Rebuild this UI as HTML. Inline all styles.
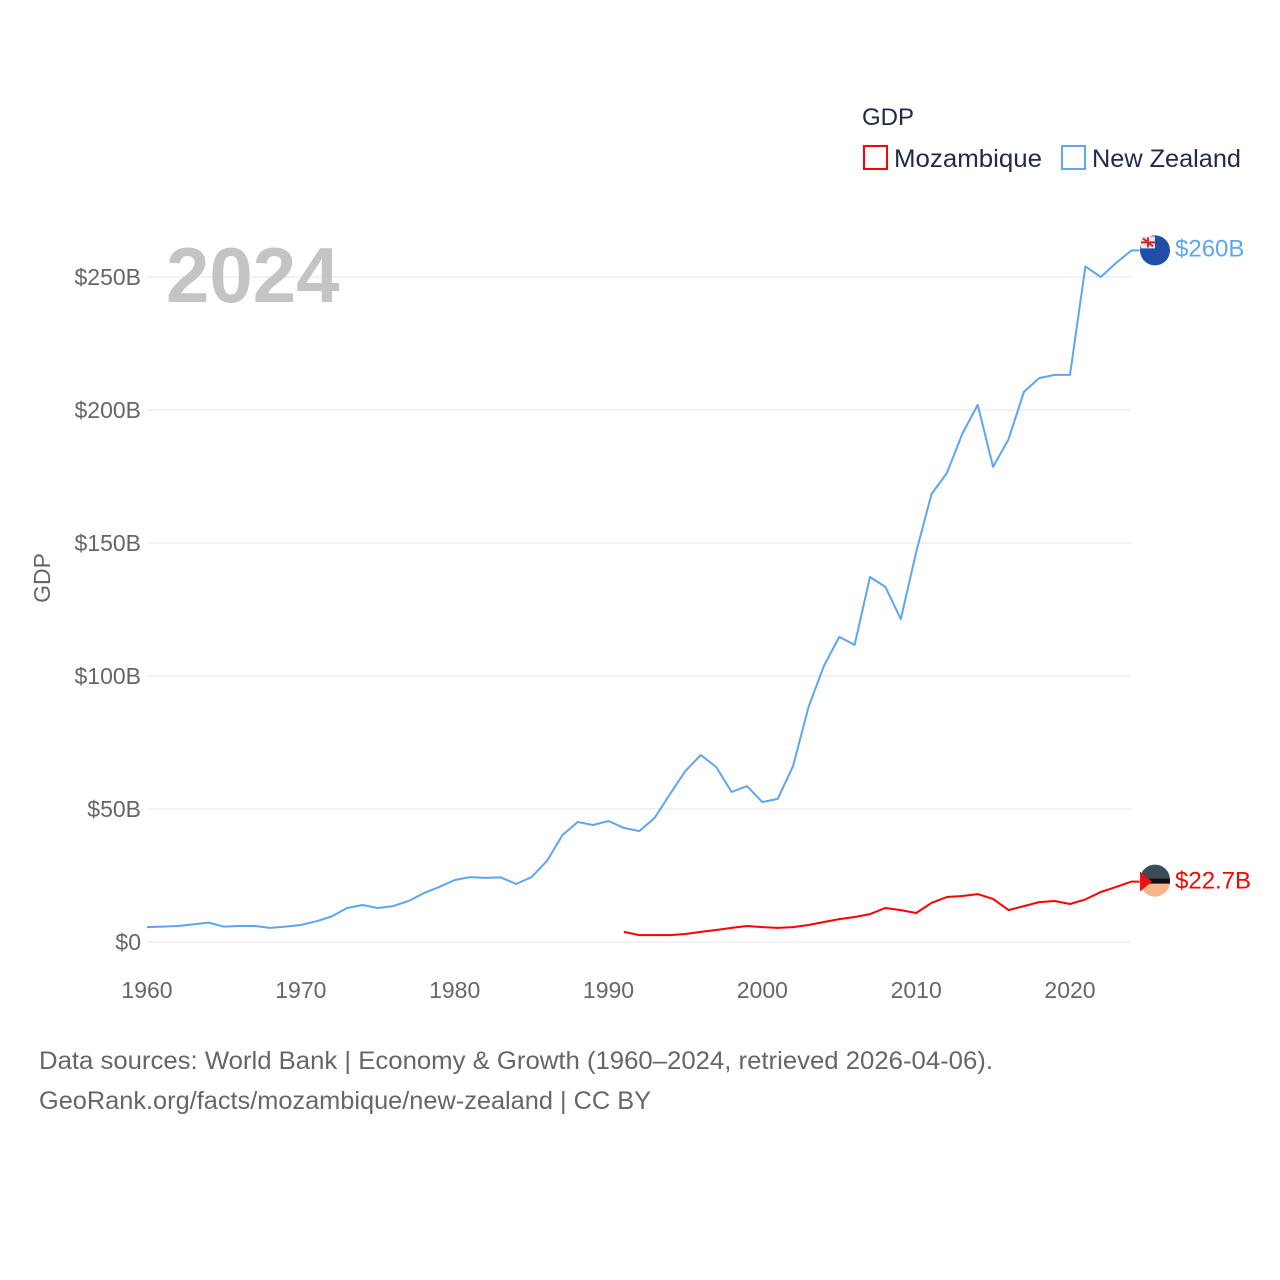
<!DOCTYPE html>
<html><head><meta charset="utf-8">
<style>
html,body{margin:0;padding:0;background:#fff;width:1280px;height:1280px;overflow:hidden;font-family:"Liberation Sans",sans-serif;}
</style></head>
<body>
<svg id="chart" width="1280" height="1280" viewBox="0 0 1280 1280" xmlns="http://www.w3.org/2000/svg" font-family="Liberation Sans, sans-serif">
  <text x="862" y="125" font-size="24" fill="#222b45">GDP</text>
  <g>
    <rect x="864" y="146" width="23" height="23" fill="none" stroke="#ff0000" stroke-width="2"/>
    <text x="894" y="167" font-size="25" fill="#222b45" textLength="148" lengthAdjust="spacingAndGlyphs">Mozambique</text>
  </g>
  <g>
    <rect x="1062" y="146" width="23" height="23" fill="none" stroke="#5ea6ee" stroke-width="2"/>
    <text x="1092" y="167" font-size="25" fill="#222b45" textLength="149" lengthAdjust="spacingAndGlyphs">New Zealand</text>
  </g>
  <g id="grid"></g>
  <g id="yticks"></g>
  <g id="xticks"></g>
  <text x="166" y="302" font-size="78" font-weight="bold" fill="#c4c4c4">2024</text>
  <text transform="translate(50,578) rotate(-90)" text-anchor="middle" font-size="23" fill="#666">GDP</text>
  <g id="series"></g>
  <text x="39" y="1069" font-size="25" fill="#666" textLength="954" lengthAdjust="spacingAndGlyphs">Data sources: World Bank | Economy &amp; Growth (1960–2024, retrieved 2026-04-06).</text>
  <text x="39" y="1109" font-size="25" fill="#666" textLength="612" lengthAdjust="spacingAndGlyphs">GeoRank.org/facts/mozambique/new-zealand | CC BY</text>
</svg>
<script>
const years = Array.from({length:65},(_,i)=>1960+i);
const nzValues = [5.6,5.8,6.0,6.6,7.3,5.8,6.0,6.0,5.3,5.8,6.4,7.8,9.6,12.8,13.9,12.8,13.5,15.4,18.4,20.7,23.3,24.4,24.1,24.3,21.8,24.4,30.5,40.2,45.1,44.0,45.5,42.9,41.7,46.6,55.6,64.3,70.3,65.8,56.4,58.6,52.6,53.8,66.2,88.3,103.8,114.7,111.7,137.2,133.5,121.4,146.6,168.4,176.3,191.0,201.9,178.6,189.0,206.8,212.0,213.2,213.2,254.0,250.0,255.3,260.0];
const mzYears = Array.from({length:34},(_,i)=>1991+i);
const mzValues = [3.8,2.6,2.6,2.6,3.0,3.8,4.5,5.3,6.0,5.6,5.3,5.6,6.4,7.5,8.6,9.4,10.5,12.8,12.0,10.9,14.7,16.9,17.3,18.0,16.2,12.0,13.5,15.0,15.4,14.3,16.0,18.8,20.7,22.7];
const yTicks = [0,50,100,150,200,250];
const yTickLabels = ["$0","$50B","$100B","$150B","$200B","$250B"];
const xTicks = [1960,1970,1980,1990,2000,2010,2020];
const endLabels = ["$260B","$22.7B"];

const NS="http://www.w3.org/2000/svg";
const x = yr => 147 + (yr-1960)*(1070-147)/60;
const y = v => 942 - v*(942-277)/250;
function mk(tag, attrs, parent){const e=document.createElementNS(NS,tag);for(const k in attrs)e.setAttribute(k,attrs[k]);parent.appendChild(e);return e;}
const grid=document.getElementById('grid'), yt=document.getElementById('yticks'), xt=document.getElementById('xticks'), ser=document.getElementById('series');
yTicks.forEach((t,i)=>{
  const l=mk('line',{x1:147,x2:1131,y1:y(t),y2:y(t),stroke:'#e6e6e6','stroke-width':1},grid);
  
  
  const tx=mk('text',{x:141,y:y(t)+8,'text-anchor':'end','font-size':23,fill:'#666'},yt);
  tx.textContent=yTickLabels[i];
  
  
});
xTicks.forEach(t=>{
  const tx=mk('text',{x:x(t),y:998,'text-anchor':'middle','font-size':23,fill:'#666'},xt);
  tx.textContent=t;
  
  
});
function line(xs,vs,color,name){
  const p=mk('path',{d:xs.map((yr,i)=>(i?'L':'M')+x(yr).toFixed(1)+','+y(vs[i]).toFixed(1)).join('')+'h8',fill:'none',stroke:color,'stroke-width':2,'stroke-linejoin':'round'},ser);
  
  
}
line(years,nzValues,'#5ea6ee','line-new-zealand');
line(mzYears,mzValues,'#ff0000','line-mozambique');
const nzY=y(nzValues[nzValues.length-1]), mzY=y(mzValues[mzValues.length-1]);
const f1=mk('g',{},ser);


mk('circle',{cx:1155,cy:nzY,r:15,fill:'#1f4fa8'},f1);
mk('rect',{x:1141,y:nzY-14,width:14,height:12,fill:'#e8e8f0'},f1);
mk('path',{d:`M1143 ${nzY-12}L1153 ${nzY-4}M1148 ${nzY-13}V${nzY-3}M1141 ${nzY-8}H1155`,stroke:'#d22',fill:'none','stroke-width':2},f1);
const l1=mk('text',{x:1175,y:nzY+6,'font-size':24,fill:'#5ea6ee'},ser);
l1.textContent=endLabels[0];


const f2=mk('g',{},ser);


mk('circle',{cx:1155,cy:mzY,r:15,fill:'#f6b88a'},f2);
mk('path',{d:`M1140 ${mzY-2}A15 15 0 0 1 1170 ${mzY-2}Z`,fill:'#3c4a5a'},f2);
mk('rect',{x:1140,y:mzY-3,width:30,height:5,fill:'#111'},f2);
mk('path',{d:`M1140 ${mzY-10}L1152 ${mzY}L1140 ${mzY+10}Z`,fill:'#e11'},f2);
const l2=mk('text',{x:1175,y:mzY+7,'font-size':24,fill:'#ff0000'},ser);
l2.textContent=endLabels[1];


</script>
</body></html>
